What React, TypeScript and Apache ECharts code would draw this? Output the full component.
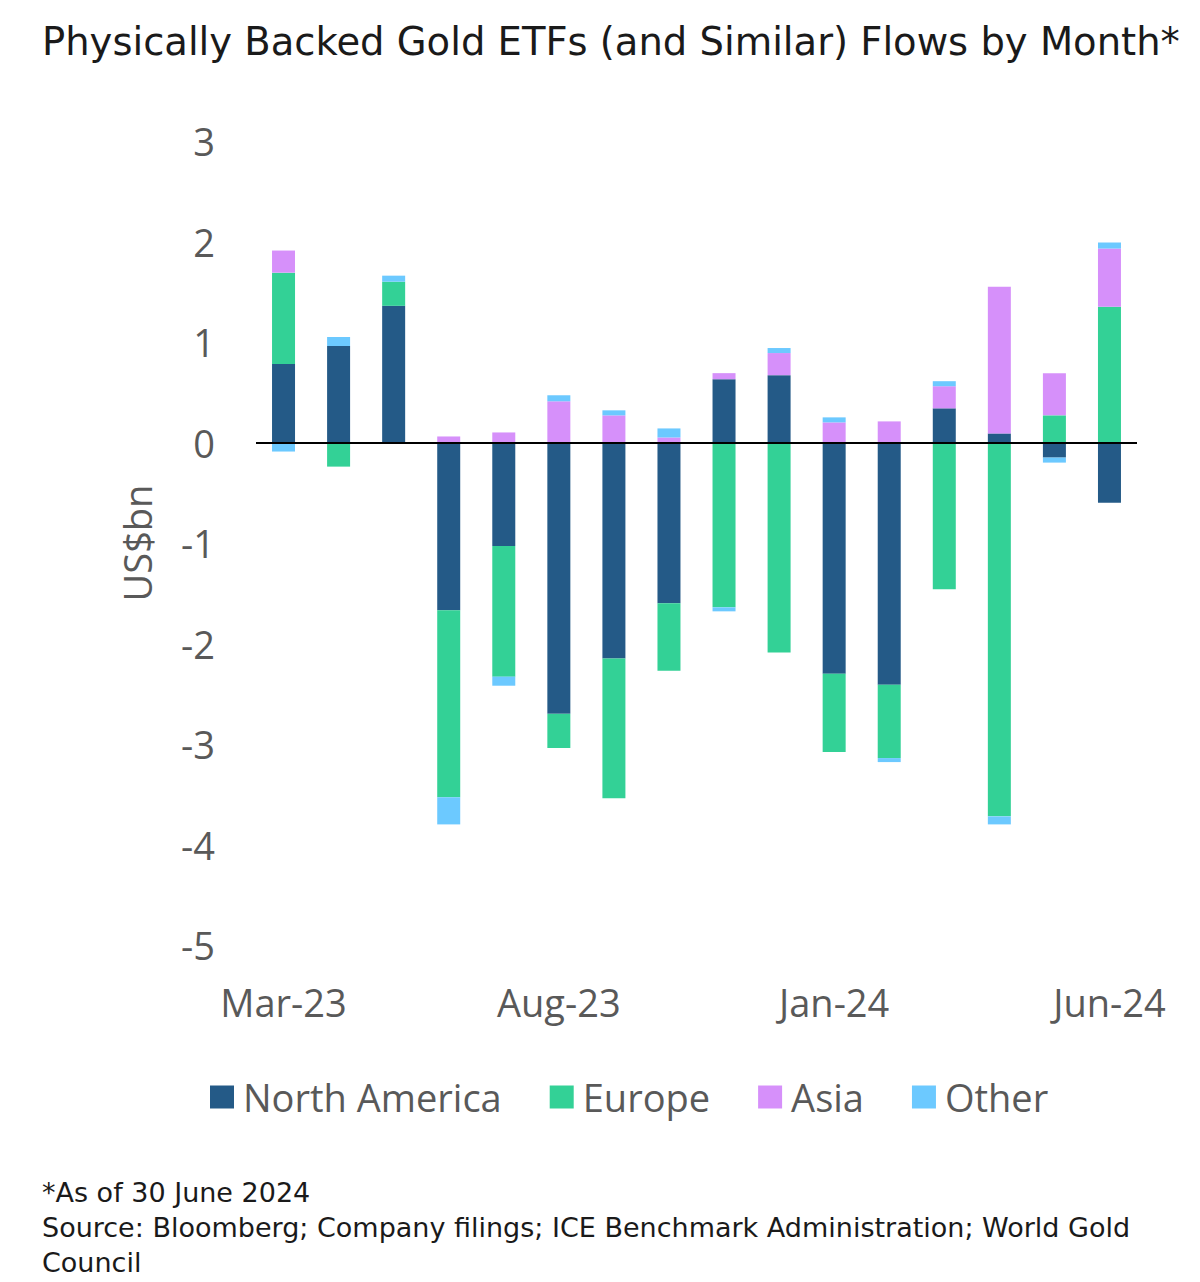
import React, { useEffect, useRef } from "react";
import * as echarts from "echarts";

// Monthly flows, US$bn
const months = [
  "Mar-23", "Apr-23", "May-23", "Jun-23", "Jul-23", "Aug-23", "Sep-23", "Oct-23",
  "Nov-23", "Dec-23", "Jan-24", "Feb-24", "Mar-24", "Apr-24", "May-24", "Jun-24",
];
const northAmerica = [0.78, 0.96, 1.36, -1.67, -1.03, -2.70, -2.15, -1.60, 0.63, 0.67, -2.30, -2.41, 0.34, 0.09, -0.15, -0.60];
const europe = [0.91, -0.24, 0.24, -1.86, -1.30, -0.34, -1.39, -0.67, -1.64, -2.09, -0.78, -0.73, -1.46, -3.72, 0.27, 1.35];
const asia = [0.22, 0.0, 0.0, 0.06, 0.10, 0.41, 0.27, 0.05, 0.06, 0.22, 0.20, 0.21, 0.22, 1.46, 0.42, 0.58];
const other = [-0.09, 0.09, 0.06, -0.27, -0.09, 0.06, 0.05, 0.09, -0.04, 0.05, 0.05, -0.04, 0.05, -0.08, -0.05, 0.06];

const yTicks = { min: -5, max: 3, interval: 1 };

const footnotes = [
  "*As of 30 June 2024",
  "Source: Bloomberg; Company filings; ICE Benchmark Administration; World Gold",
  "Council",
];

const COLORS = {
  northAmerica: "#245A87",
  europe: "#33D196",
  asia: "#D690FA",
  other: "#6CC9FF",
};

const AXIS_FONT = "'Open Sans', 'Noto Sans', sans-serif";
const TITLE_FONT = "'DejaVu Sans', 'Liberation Sans', sans-serif";

export default function App() {
  const ref = useRef<HTMLDivElement>(null);

  useEffect(() => {
    if (!ref.current) return;
    const chart = echarts.init(ref.current, undefined, { renderer: "svg" });

    const makeSeries = (name: string, data: number[], color: string, extra: any = {}) => ({
      name,
      type: "bar",
      stack: "flows",
      barWidth: 23,
      data,
      itemStyle: { color },
      emphasis: { disabled: true },
      ...extra,
    });

    chart.setOption({
      animation: false,
      backgroundColor: "#ffffff",
      title: {
        text: "Physically Backed Gold ETFs (and Similar) Flows by Month*",
        left: 42,
        top: 22,
        padding: 0,
        textStyle: {
          fontFamily: TITLE_FONT,
          fontSize: 38.5,
          fontWeight: "normal",
          color: "#1a1a1a",
        },
      },
      grid: { left: 256, top: 141, width: 881, height: 804, containLabel: false },
      legend: {
        left: 205,
        top: 1073,
        itemWidth: 24,
        itemHeight: 23,
        itemGap: 48,
        icon: "rect",
        selectedMode: false,
        textStyle: {
          fontFamily: AXIS_FONT,
          fontSize: 38,
          color: "#595959",
          padding: [0, 0, 0, 4],
        },
        data: ["North America", "Europe", "Asia", "Other"],
      },
      xAxis: {
        type: "category",
        data: months,
        position: "bottom",
        axisLine: { show: false, onZero: false },
        axisTick: { show: false },
        axisLabel: {
          interval: 4,
          margin: 38,
          fontFamily: AXIS_FONT,
          fontSize: 38,
          color: "#595959",
        },
      },
      yAxis: {
        type: "value",
        min: yTicks.min,
        max: yTicks.max,
        interval: yTicks.interval,
        name: "US$bn",
        nameLocation: "middle",
        nameGap: 100,
        nameTextStyle: {
          fontFamily: AXIS_FONT,
          fontSize: 38,
          color: "#595959",
        },
        axisLine: { show: false },
        axisTick: { show: false },
        splitLine: { show: false },
        axisLabel: {
          margin: 41,
          fontFamily: AXIS_FONT,
          fontSize: 38,
          color: "#595959",
        },
      },
      series: [
        makeSeries("North America", northAmerica, COLORS.northAmerica),
        makeSeries("Europe", europe, COLORS.europe),
        makeSeries("Asia", asia, COLORS.asia),
        makeSeries("Other", other, COLORS.other, {
          markLine: {
            silent: true,
            symbol: "none",
            label: { show: false },
            lineStyle: { color: "#000000", width: 2, type: "solid" },
            data: [{ yAxis: 0 }],
            z: 10,
          },
        }),
      ],
      graphic: footnotes.map((line, i) => ({
        type: "text",
        left: 42,
        top: 1179 + i * 35,
        style: {
          text: line,
          fontFamily: TITLE_FONT,
          fontSize: 27,
          fill: "#1a1a1a",
        },
      })),
    });

    return () => chart.dispose();
  }, []);

  return (
    <div
      ref={ref}
      style={{ position: "absolute", left: 0, top: 0, width: 1200, height: 1282 }}
    />
  );
}
